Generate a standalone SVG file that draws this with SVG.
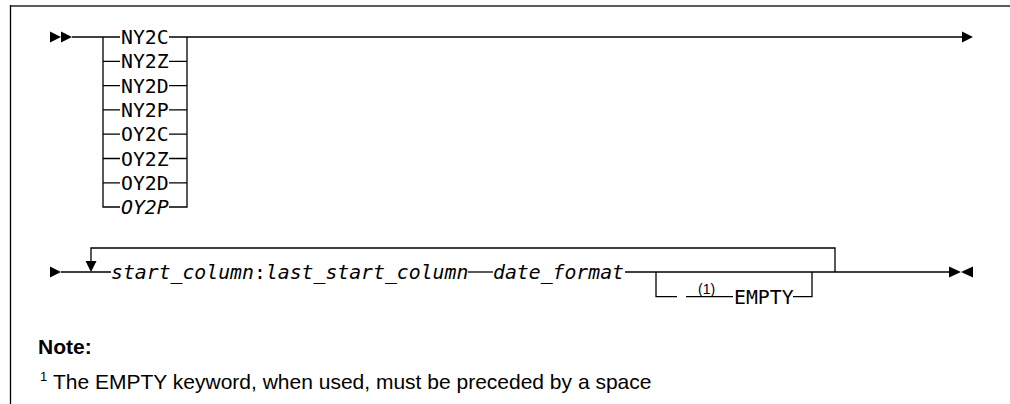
<svg xmlns="http://www.w3.org/2000/svg" width="1010" height="404" viewBox="0 0 1010 404">
<style>
.ln{stroke:#000;stroke-width:1.3;fill:none}
.kw{font-family:"DejaVu Sans Mono",monospace;font-size:19.8px;fill:#000}
.it{font-family:"DejaVu Sans Mono",monospace;font-size:19.8px;font-style:italic;fill:#000}
.sup{font-family:"Liberation Sans",Arial,sans-serif;font-size:14px;fill:#000}
.note{font-family:"Liberation Sans",Arial,sans-serif;font-size:21px;fill:#000}
.ah{fill:#000}
</style>
<rect width="1010" height="404" fill="#fff"/>
<g id="frame">
<line x1="10" y1="6" x2="1010" y2="6" stroke="#5a5a5a" stroke-width="2.2"/>
<line x1="10.5" y1="5" x2="10.5" y2="404" stroke="#000" stroke-width="1.3"/>
</g>
<g id="connectors">
<polygon class="ah" points="50,31.5 61,37 50,42.5"/>
<polygon class="ah" points="61,31.5 72,37 61,42.5"/>
<path class="ln" d="M72,37 H120"/>
<path class="ln" d="M103,37 V207 H120"/>
<path class="ln" d="M103,61.3 H120 M103,85.6 H120 M103,109.9 H120 M103,134.2 H120 M103,158.5 H120 M103,182.8 H120"/>
<path class="ln" d="M169,37 H962"/>
<path class="ln" d="M169,61.3 H187 M169,85.6 H187 M169,109.9 H187 M169,134.2 H187 M169,158.5 H187 M169,182.8 H187 M169,207 H187 V37"/>
<polygon class="ah" points="962,31.5 973,37 962,42.5"/>
<polygon class="ah" points="50,266.5 61,272 50,277.5"/>
<path class="ln" d="M61,272 H111"/>
<path class="ln" d="M91,262 V248 H835 V272"/>
<polygon class="ah" points="85.5,261 96.5,261 91,272"/>
<path class="ln" d="M468,272 H493"/>
<path class="ln" d="M625,272 H949"/>
<path class="ln" d="M656,272 V296.7 H677"/>
<path class="ln" d="M686,296.7 H733"/>
<path class="ln" d="M793,296.7 H812 V272"/>
<polygon class="ah" points="949,266.5 961,272 949,277.5"/>
<polygon class="ah" points="973,266.5 961,272 973,277.5"/>
</g>
<g id="choices">
<text class="kw" x="121" y="44">NY2C</text>
<text class="kw" x="121" y="68.3">NY2Z</text>
<text class="kw" x="121" y="92.6">NY2D</text>
<text class="kw" x="121" y="116.9">NY2P</text>
<text class="kw" x="121" y="141.2">OY2C</text>
<text class="kw" x="121" y="165.5">OY2Z</text>
<text class="kw" x="121" y="189.8">OY2D</text>
<text class="it" x="121" y="214">OY2P</text>
</g>
<g id="col">
<text class="it" x="111" y="279">start_column<tspan font-style="normal">:</tspan>last_start_column</text>
</g>
<g id="fmt">
<text class="it" x="493" y="279">date_format</text>
</g>
<g id="empty">
<text class="sup" x="698" y="294">(1)</text>
<text class="kw" x="734" y="304">EMPTY</text>
</g>
<g id="notes">
<text class="note" x="38" y="354" font-weight="bold">Note:</text>
<text class="note" x="40" y="389"><tspan font-size="13" dy="-8">1</tspan><tspan x="53" dy="8">The EMPTY keyword, when used, must be preceded by a space</tspan></text>
</g>
</svg>
